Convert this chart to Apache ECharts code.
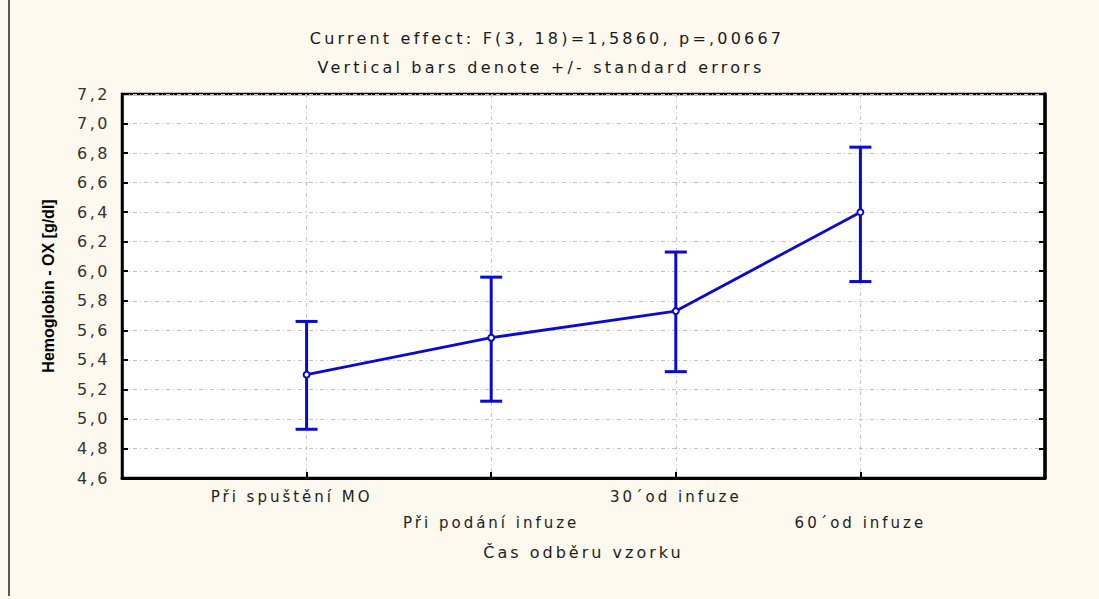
<!DOCTYPE html>
<html><head><meta charset="utf-8">
<script src="https://cdn.jsdelivr.net/npm/echarts@6/dist/echarts.min.js"></script>
<style>html,body{margin:0;padding:0;background:#fdf9ef;}#c{width:1099px;height:599px;}</style>
</head><body><div id="c"></div>
<script>
const categories = ['Při spuštění MO', 'Při podání infuze', '30´od infuze', '60´od infuze'];
const means = [5.30, 5.55, 5.73, 6.40];
const upper = [5.66, 5.96, 6.13, 6.84];
const lower = [4.93, 5.12, 5.32, 5.93];
const yTicks = ['4,6','4,8','5,0','5,2','5,4','5,6','5,8','6,0','6,2','6,4','6,6','6,8','7,0','7,2'];
const titleLine1 = 'Current effect: F(3, 18)=1,5860, p=,00667';
const titleLine2 = 'Vertical bars denote +/- standard errors';
const xName = 'Čas odběru vzorku';
const yName = 'Hemoglobin - OX [g/dl]';

const blue = '#0a0ad2';
const chart = echarts.init(document.getElementById('c'), null, {renderer:'svg'});
const gridDash = [4,3,1,3];
const lineData = means.map((m,i)=>[i+1,m]);
const errData = means.map((m,i)=>[i+1,lower[i],upper[i]]);

chart.setOption({
  backgroundColor:'#fdf9ef',
  animation:false,
  title:[
    {text:titleLine1, left:542, top:25, textAlign:'center',
     textStyle:{fontFamily:'DejaVu Sans', fontSize:16, fontWeight:'normal', color:'#1a1a1a'}},
    {text:titleLine2, left:536, top:54, textAlign:'center',
     textStyle:{fontFamily:'DejaVu Sans', fontSize:16, fontWeight:'normal', color:'#1a1a1a'}}
  ],
  grid:{left:122, top:94, right:54, bottom:121, show:true, backgroundColor:'#ffffff', borderColor:'#000', borderWidth:2.5},
  xAxis:{
    type:'value', min:0, max:5, interval:1,
    name:xName, nameLocation:'middle', nameGap:66,
    nameTextStyle:{fontFamily:'DejaVu Sans', fontSize:16, color:'#222'},
    axisLine:{show:true, lineStyle:{color:'#000', width:3}},
    axisTick:{show:true, inside:true, length:6, lineStyle:{color:'#000', width:2}},
    splitLine:{show:true, lineStyle:{color:'#c4c4c4', width:1, type:gridDash}},
    axisLabel:{
      fontFamily:'DejaVu Sans', fontSize:15, color:'#222', margin:6, lineHeight:26,
      rich:{first:{fontFamily:'DejaVu Sans', fontSize:15, color:'#222', padding:[0,30,0,0]}},
      formatter:function(v){
        const i = Math.round(v)-1;
        if(i<0||i>=categories.length) return '';
        if(i===0) return '{first|'+categories[i]+'}';
        return (i%2===1?'\n':'')+categories[i];
      }
    }
  },
  yAxis:[{
    type:'value', min:4.6, max:7.2, interval:0.2,
    name:yName, nameLocation:'middle', nameGap:66, nameRotate:90,
    nameTextStyle:{fontFamily:'Liberation Sans Narrow, Arial Narrow, sans-serif', fontSize:16, fontWeight:'bold', color:'#000'},
    axisLine:{show:true, lineStyle:{color:'#000', width:2.5}},
    axisTick:{show:true, inside:true, length:6, lineStyle:{color:'#000', width:2}},
    splitLine:{show:true, lineStyle:{color:'#c4c4c4', width:1, type:gridDash}},
    axisLabel:{
      fontFamily:'DejaVu Sans', fontSize:16, color:'#333', margin:12,
      formatter:function(v){ const k=Math.round((v-4.6)/0.2); return yTicks[k]!==undefined?yTicks[k]:''; }
    }
  },{
    type:'value', min:4.6, max:7.2, interval:0.2, position:'right',
    axisLine:{show:true, lineStyle:{color:'#000', width:3.5}},
    axisTick:{show:true, inside:true, length:6, lineStyle:{color:'#000', width:2}},
    axisLabel:{show:false}, splitLine:{show:false}
  }],
  graphic:[{
    type:'line', shape:{x1:9,y1:0,x2:9,y2:596}, style:{stroke:'#222', lineWidth:1.5}, z:100
  }],
  series:[
    {
      type:'custom', name:'se', data:errData, z:3,
      encode:{x:0, y:[1,2]},
      renderItem:function(params, api){
        const x = api.value(0);
        const lo = api.coord([x, api.value(1)]);
        const hi = api.coord([x, api.value(2)]);
        const w = 11;
        const st = {stroke:blue, lineWidth:3, fill:null};
        return {type:'group', children:[
          {type:'line', shape:{x1:lo[0],y1:lo[1],x2:hi[0],y2:hi[1]}, style:st},
          {type:'line', shape:{x1:lo[0]-w,y1:lo[1],x2:lo[0]+w,y2:lo[1]}, style:st},
          {type:'line', shape:{x1:hi[0]-w,y1:hi[1],x2:hi[0]+w,y2:hi[1]}, style:st}
        ]};
      }
    },
    {
      type:'line', name:'mean', data:lineData, z:4,
      symbol:'emptyCircle', symbolSize:6,
      lineStyle:{color:blue, width:2.8},
      itemStyle:{color:blue, borderColor:blue, borderWidth:2}
    }
  ]
});

// widen letter spacing to mimic the original's spaced-out typeface
function spaceText(){
  document.querySelectorAll('#c svg text').forEach(function(t){
    const s = t.textContent || '';
    if (s.indexOf('Hemoglobin') >= 0) return;
    let ls = 3;
    if (/^\d,\d$/.test(s)) ls = 2.5;
    if (s === titleLine1 || s === titleLine2) ls = 3.2;
    t.setAttribute('letter-spacing', ls + 'px');
  });
}
spaceText();
chart.on('finished', spaceText);
</script>
</body></html>
